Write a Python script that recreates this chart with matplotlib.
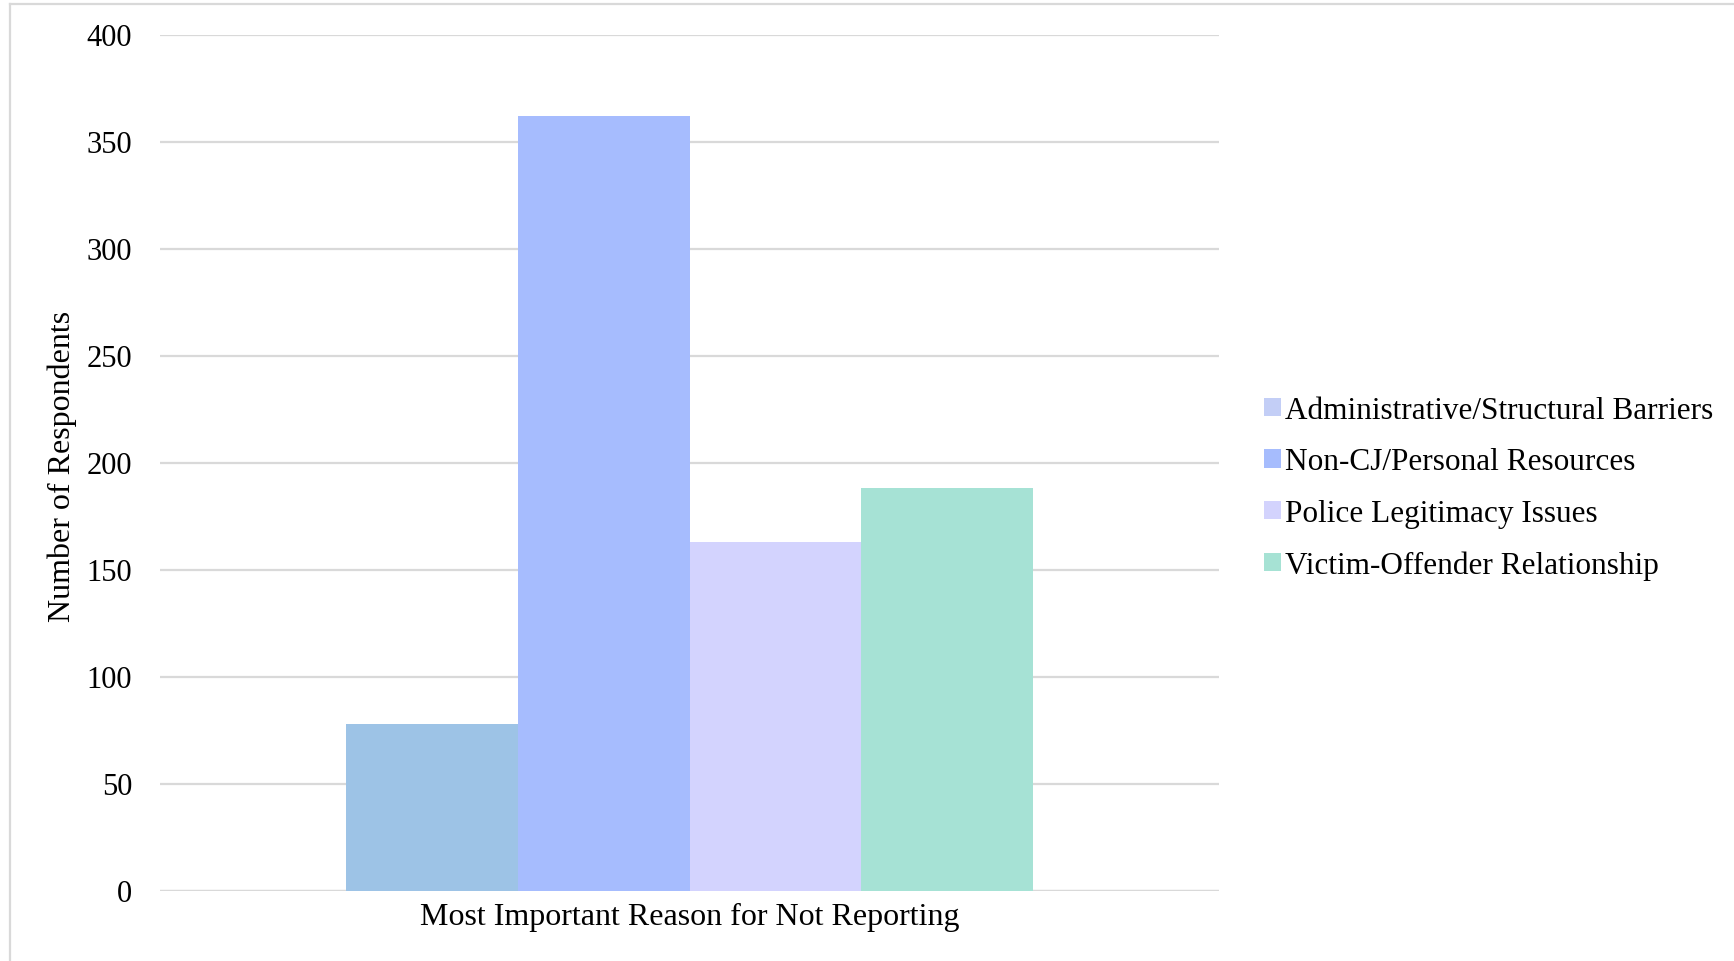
import matplotlib.pyplot as plt
from matplotlib.patches import Patch
from matplotlib.lines import Line2D

categories = ["Administrative/Structural Barriers", "Non-CJ/Personal Resources",
              "Police Legitimacy Issues", "Victim-Offender Relationship"]
values = [78, 362, 163, 188]
bar_colors = ["#9dc3e6", "#a6bcfe", "#d3d3fe", "#a6e2d5"]
legend_colors = ["#c3cef6", "#a6bcfd", "#d3d3fd", "#a6e2d4"]
yticks = [0, 50, 100, 150, 200, 250, 300, 350, 400]
xlabel = "Most Important Reason for Not Reporting"
ylabel = "Number of Respondents"

plt.rcParams['font.family'] = ['Liberation Serif', 'DejaVu Serif']

fig = plt.figure(figsize=(17.34, 9.62), dpi=100)
ax = fig.add_axes([160 / 1734, 70.5 / 962, 1059 / 1734, 856 / 962])

w = 0.1622
for i, (v, c) in enumerate(zip(values, bar_colors)):
    ax.bar((i - 1.5) * w, v, width=w, color=c, zorder=2)

ax.set_xlim(-0.5, 0.5)
ax.set_ylim(0, 400)
ax.set_yticks(yticks)
ax.set_xticks([0])
ax.set_xticklabels([xlabel], fontsize=23)
ax.tick_params(axis='both', length=0, colors='#000000')
ax.tick_params(axis='y', pad=20, labelsize=22)
ax.tick_params(axis='x', pad=8.5)
ax.yaxis.grid(True, color='#d9d9d9', linewidth=1.6, zorder=0)
ax.set_axisbelow(True)
for s in ax.spines.values():
    s.set_visible(False)
ax.axhline(0, color='#d9d9d9', linewidth=1.6, zorder=1)

fig.text(62 / 1734, 1 - 466 / 962, ylabel, rotation=90, fontsize=23,
         ha='center', va='center')

handles = [Patch(facecolor=c, edgecolor='none') for c in legend_colors]
fig.legend(handles, categories, loc='center left',
           bbox_to_anchor=(1251 / 1734, 1 - 489 / 962), frameon=False,
           fontsize=22.5, handlelength=0.55, handleheight=0.55,
           handletextpad=0.15, labelspacing=0.72, borderaxespad=0)

# outer border like the original chart area frame
fig.add_artist(Line2D([10 / 1734, 1], [1 - 5 / 962, 1 - 5 / 962],
                      color='#d9d9d9', linewidth=1.6))
fig.add_artist(Line2D([10 / 1734, 10 / 1734], [0, 1 - 5 / 962],
                      color='#d9d9d9', linewidth=1.6))

fig.savefig("out.png", dpi=100)
